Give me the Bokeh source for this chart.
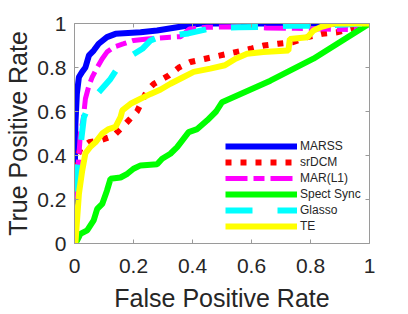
from bokeh.plotting import figure
from bokeh.models import Range1d, LinearAxis, FixedTicker, NumeralTickFormatter, Legend, LegendItem, CustomJSTickFormatter
from bokeh.embed import file_html
from bokeh.resources import INLINE

# ---- data ----
marss_x = [0, 0.001, 0.003, 0.008, 0.015, 0.026, 0.037, 0.049, 0.065, 0.082, 0.11, 0.139, 0.224, 0.28, 0.348, 0.427, 1.0]
marss_y = [0, 0.3, 0.54, 0.68, 0.756, 0.78, 0.80, 0.855, 0.877, 0.908, 0.938, 0.953, 0.96, 0.968, 0.983, 1.0, 1.0]

srdcm_x = [0, 0.0, 0.005, 0.02, 0.049, 0.09, 0.133, 0.173, 0.212, 0.246, 0.269, 0.32, 0.354, 0.393, 0.444, 0.495,
           0.546, 0.597, 0.642, 0.69, 0.74, 0.79, 0.84, 0.89, 0.936, 1.0]
srdcm_y = [0, 0.2, 0.38, 0.43, 0.46, 0.47, 0.49, 0.544, 0.6, 0.695, 0.726, 0.764, 0.80, 0.825, 0.84, 0.855,
           0.87, 0.885, 0.9, 0.908, 0.915, 0.938, 0.953, 0.96, 0.976, 1.0]

mar_x = [0, 0.002, 0.009, 0.015, 0.02, 0.03, 0.037, 0.049, 0.06, 0.077, 0.094, 0.11, 0.133, 0.167, 0.2, 0.246,
         0.325, 0.36, 0.39, 0.45, 0.55, 0.65, 0.75, 0.85, 0.95, 1.0]
mar_y = [0, 0.2, 0.3, 0.4, 0.5, 0.57, 0.658, 0.718, 0.756, 0.80, 0.84, 0.87, 0.893, 0.908, 0.923, 0.93,
         0.938, 0.94, 0.975, 0.983, 0.985, 0.98, 0.978, 0.975, 0.972, 1.0]

spect_x = [0, 0.009, 0.02, 0.043, 0.065, 0.077, 0.094, 0.11, 0.122, 0.156, 0.179, 0.2, 0.224, 0.28, 0.297, 0.325,
           0.348, 0.387, 0.416, 0.45, 0.48, 0.5, 0.664, 0.81, 1.0]
spect_y = [0, 0.014, 0.044, 0.06, 0.105, 0.157, 0.18, 0.24, 0.294, 0.30, 0.317, 0.34, 0.355, 0.36, 0.385, 0.408,
           0.438, 0.506, 0.52, 0.56, 0.6, 0.642, 0.74, 0.84, 1.0]

glasso_x = [0, 0.003, 0.009, 0.02, 0.032, 0.049, 0.071, 0.122, 0.156, 0.2, 0.23, 0.258, 0.286, 0.386, 0.468,
            0.556, 0.647, 0.73, 0.82, 1.0]
glasso_y = [0, 0.12, 0.33, 0.44, 0.574, 0.627, 0.67, 0.748, 0.817, 0.86, 0.885, 0.923, 0.938, 0.955, 0.98,
            0.983, 0.985, 0.99, 0.99, 1.0]

te_x = [0, 0.003, 0.015, 0.026, 0.037, 0.054, 0.071, 0.094, 0.116, 0.139, 0.156, 0.162, 0.19, 0.224, 0.258, 0.292,
        0.325, 0.37, 0.404, 0.46, 0.51, 0.546, 0.585, 0.64, 0.725, 0.73, 0.79, 0.81, 0.834, 0.878, 1.0]
te_y = [0, 0.0, 0.226, 0.33, 0.41, 0.44, 0.46, 0.5, 0.52, 0.53, 0.574, 0.605, 0.635, 0.658, 0.68, 0.70,
        0.726, 0.757, 0.78, 0.795, 0.81, 0.84, 0.863, 0.87, 0.877, 0.93, 0.938, 0.968, 0.983, 1.0, 1.0]

ticks = [0, 0.2, 0.4, 0.6, 0.8, 1]
names = ["MARSS", "srDCM", "MAR(L1)", "Spect Sync", "Glasso", "TE"]

TXT = "#262626"
AX = "#9a9a9a"
FONT = "Liberation Sans"

p = figure(frame_width=295, frame_height=220, output_backend="svg", toolbar_location=None,
           x_range=Range1d(0, 1), y_range=Range1d(0, 1),
           min_border_left=74, min_border_top=23, min_border_right=39, min_border_bottom=71)
p.outline_line_color = None
p.grid.visible = False
p.background_fill_color = "white"

def style_axis(ax, labels=True):
    ax.ticker = FixedTicker(ticks=ticks)
    ax.axis_line_color = AX
    ax.major_tick_line_color = AX
    ax.major_tick_in = 4
    ax.major_tick_out = 0
    ax.minor_tick_line_color = None
    if labels:
        ax.formatter = NumeralTickFormatter(format="0.[0]")
        ax.major_label_text_font = FONT
        ax.major_label_text_font_size = "21px"
        ax.major_label_text_color = TXT
        ax.axis_label_text_font = FONT
        ax.axis_label_text_font_size = "25px"
        ax.axis_label_text_font_style = "normal"
        ax.axis_label_text_color = TXT
    else:
        ax.formatter = CustomJSTickFormatter(code="return ''")
        ax.major_label_standoff = 0

style_axis(p.xaxis[0])
style_axis(p.yaxis[0])
p.xaxis[0].axis_label = "False Positive Rate"
p.yaxis[0].axis_label = "True Positive Rate"
p.xaxis[0].major_label_standoff = 15
p.xaxis[0].axis_label_standoff = 8
p.yaxis[0].major_label_standoff = 8
p.yaxis[0].axis_label_standoff = 2

top = LinearAxis()
style_axis(top, labels=False)
p.add_layout(top, "above")
right = LinearAxis()
style_axis(right, labels=False)
p.add_layout(right, "right")

r1 = p.line(marss_x, marss_y, line_color="#0000ff", line_width=6)
r2 = p.line(srdcm_x, srdcm_y, line_color="#ff0000", line_width=6, line_dash="6 9", line_cap="butt")
r3 = p.line(mar_x, mar_y, line_color="#ff00ff", line_width=5, line_dash="22 6 11 6")
r4 = p.line(spect_x, spect_y, line_color="#00ff00", line_width=6)
r5 = p.line(glasso_x, glasso_y, line_color="#00ffff", line_width=6, line_dash="27 25")
r6 = p.line(te_x, te_y, line_color="#ffff00", line_width=6)

legend = Legend(items=[LegendItem(label=n, renderers=[r]) for n, r in zip(names, [r1, r2, r3, r4, r5, r6])],
                location=(151, 9), padding=0, margin=0, spacing=0,
                label_height=16, glyph_height=16, glyph_width=72, label_standoff=3,
                label_text_font=FONT, label_text_font_size="12px", label_text_color=TXT,
                border_line_alpha=0, background_fill_alpha=0)
p.add_layout(legend, "center")

open("out.html", "w").write(file_html(p, INLINE))
